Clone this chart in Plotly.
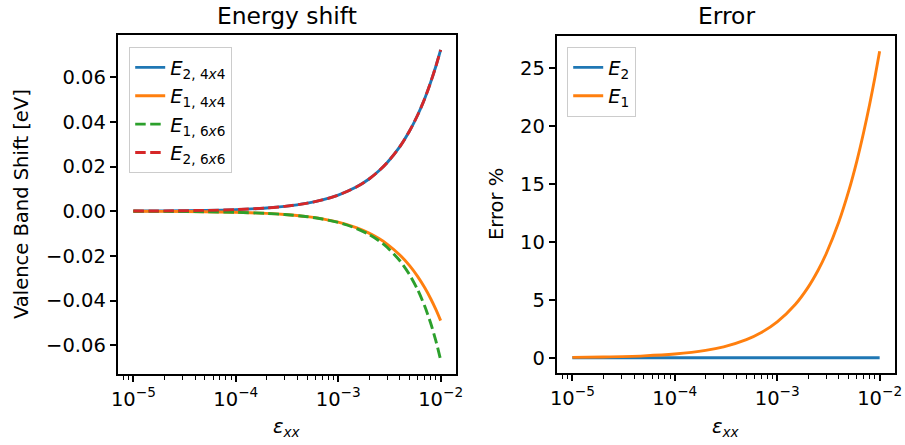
import plotly.graph_objects as go

# strain values (epsilon_xx)
strain = [1e-5, 2e-5, 5e-5, 1e-4, 2e-4, 3e-4, 5e-4, 7e-4, 1e-3, 1.5e-3, 2e-3, 2.5e-3,
          3e-3, 4e-3, 5e-3, 6e-3, 7e-3, 8e-3, 9e-3, 1e-2]

# valence band shifts [eV]
E2_4x4 = [0.00007, 0.00014, 0.00036, 0.00072, 0.00144, 0.00217, 0.00361, 0.00505, 0.00722,
          0.0108, 0.0144, 0.0181, 0.0217, 0.0289, 0.0361, 0.0433, 0.0505, 0.0578, 0.0650, 0.0722]
E1_4x4 = [-0.00005, -0.0001, -0.000245, -0.00049, -0.00098, -0.00147, -0.00245, -0.00343,
          -0.0049, -0.00735, -0.0098, -0.01225, -0.0147, -0.0196, -0.0245, -0.0294, -0.0343,
          -0.0392, -0.0441, -0.049]
E1_6x6 = [-0.00005, -0.0001, -0.000245, -0.000492, -0.000986, -0.001484, -0.002489, -0.003506,
          -0.005056, -0.007704, -0.010433, -0.013246, -0.016144, -0.022203, -0.028622, -0.035415,
          -0.042596, -0.050177, -0.058172, -0.066595]
E2_6x6 = [0.00007, 0.00014, 0.00036, 0.00072, 0.00144, 0.00217, 0.00361, 0.00505, 0.00722,
          0.0108, 0.0144, 0.0181, 0.0217, 0.0289, 0.0361, 0.0433, 0.0505, 0.0578, 0.0650, 0.0722]

# error [%]
err_E2 = [0.0] * 20
err_E1 = [0.031, 0.063, 0.157, 0.313, 0.626, 0.937, 1.556, 2.171, 3.086, 4.589, 6.066, 7.519,
          8.944, 11.72, 14.40, 16.98, 19.48, 21.88, 24.19, 26.42]

major_ticks = [1e-5, 1e-4, 1e-3, 1e-2]
major_text = ["10<sup>−5</sup>", "10<sup>−4</sup>", "10<sup>−3</sup>", "10<sup>−2</sup>"]
minor_ticks = [m * 10 ** e for e in (-6, -5, -4, -3, -2) for m in range(2, 10)]

BLUE, ORANGE, GREEN, RED = "#1f77b4", "#ff7f0e", "#2ca02c", "#d62728"
FONT = "DejaVu Sans"
W, H = 905, 445
LW = 2.9
DASH = "10.5px,4.5px"
FS = 19.5      # tick / label / legend font size
FT = 23.4      # title font size

fig = go.Figure()

def tr(x, y, name, color, dash, xa, ya, legend):
    fig.add_trace(go.Scatter(x=x, y=y, mode="lines", name=name,
                             line=dict(color=color, width=LW, dash=dash,
                                       shape="spline", smoothing=0.8),
                             xaxis=xa, yaxis=ya, legend=legend))

tr(strain, E2_4x4, "<i>E</i><sub>2, 4<i>x</i>4</sub>", BLUE, "solid", "x", "y", "legend")
tr(strain, E1_4x4, "<i>E</i><sub>1, 4<i>x</i>4</sub>", ORANGE, "solid", "x", "y", "legend")
tr(strain, E1_6x6, "<i>E</i><sub>1, 6<i>x</i>6</sub>", GREEN, DASH, "x", "y", "legend")
tr(strain, E2_6x6, "<i>E</i><sub>2, 6<i>x</i>6</sub>", RED, DASH, "x", "y", "legend")
tr(strain, err_E2, "<i>E</i><sub>2</sub>", BLUE, "solid", "x2", "y2", "legend2")
tr(strain, err_E1, "<i>E</i><sub>1</sub>", ORANGE, "solid", "x2", "y2", "legend2")

def px(x):
    return x / W

def py(y):
    return 1 - y / H

xcommon = dict(type="log", range=[-5.15, -1.85], tickvals=major_ticks, ticktext=major_text,
               ticks="outside", ticklen=6.5, tickwidth=1.5, tickcolor="black",
               showline=True, linecolor="black", linewidth=1.5, mirror=True,
               showgrid=False, zeroline=False, automargin=False,
               tickfont=dict(family=FONT, size=FS, color="black"),
               minor=dict(tickvals=minor_ticks, ticks="outside", ticklen=3.8,
                          tickwidth=1.1, tickcolor="black", showgrid=False))
ycommon = dict(ticks="outside", ticklen=6.5, tickwidth=1.5, tickcolor="black",
               showline=True, linecolor="black", linewidth=1.5, mirror=True,
               showgrid=False, zeroline=False, automargin=False,
               tickfont=dict(family=FONT, size=FS, color="black"))

leg = dict(xanchor="left", yanchor="top", bgcolor="rgba(255,255,255,0.8)",
           bordercolor="#cccccc", borderwidth=1.2, tracegroupgap=0,
           font=dict(family=FONT, size=FS, color="black"))

fig.update_layout(
    width=W, height=H,
    margin=dict(l=0, r=0, t=0, b=0, pad=0, autoexpand=False),
    paper_bgcolor="white", plot_bgcolor="white",
    font=dict(family=FONT, size=FS, color="black"),
    xaxis=dict(domain=[px(118), px(456)], anchor="y", **xcommon),
    yaxis=dict(domain=[py(374), py(35)], anchor="x", range=[-0.0729, 0.0789],
               tickvals=[-0.06, -0.04, -0.02, 0.0, 0.02, 0.04, 0.06], tickformat=".2f",
               **ycommon),
    xaxis2=dict(domain=[px(557), px(895)], anchor="y2", **xcommon),
    yaxis2=dict(domain=[py(373), py(36)], anchor="x2", range=[-1.32, 27.74],
                tickvals=[0, 5, 10, 15, 20, 25], **ycommon),
    legend=dict(x=px(129), y=py(47), **leg),
    legend2=dict(x=px(567), y=py(47), **leg),
    showlegend=True,
)

ann = [
    dict(text="Energy shift", x=px(287), y=py(16), size=FT, angle=0),
    dict(text="Error", x=px(726), y=py(16), size=FT, angle=0),
    dict(text="<i>ε</i><sub><i>xx</i></sub>", x=px(287), y=py(427), size=FS, angle=0),
    dict(text="<i>ε</i><sub><i>xx</i></sub>", x=px(726), y=py(427), size=FS, angle=0),
    dict(text="Valence Band Shift [eV]", x=px(22), y=py(204), size=FS, angle=-90),
    dict(text="Error %", x=px(497), y=py(204), size=FS, angle=-90),
]
for a in ann:
    fig.add_annotation(text=a["text"], x=a["x"], y=a["y"], xref="paper", yref="paper",
                       xanchor="center", yanchor="middle", showarrow=False,
                       textangle=a["angle"],
                       font=dict(family=FONT, size=a["size"], color="black"))

fig.write_html("out.html")
